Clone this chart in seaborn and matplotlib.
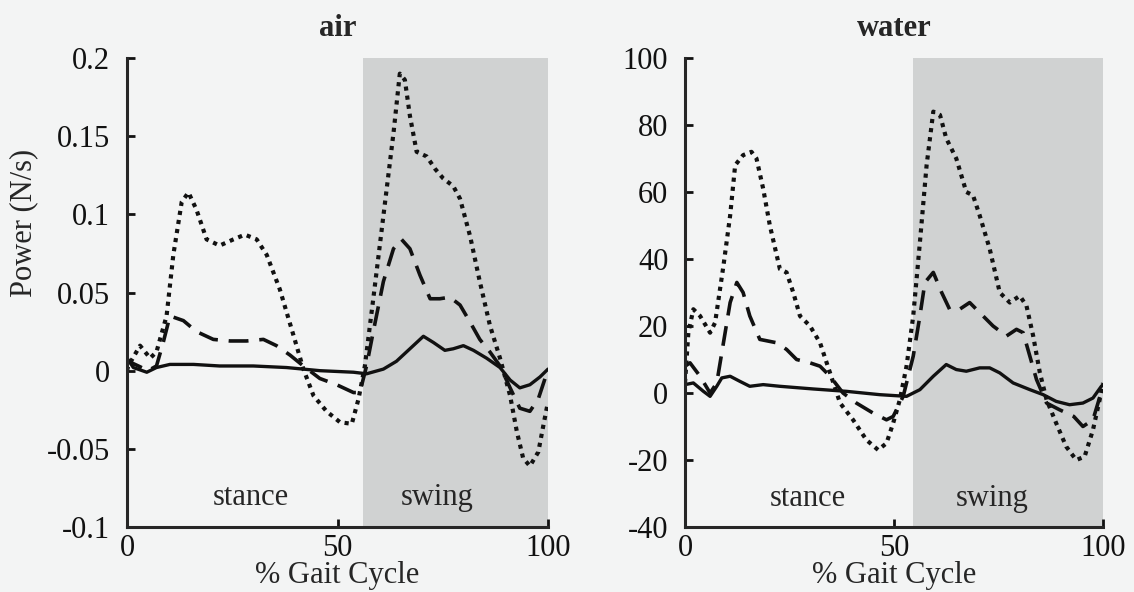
import numpy as np
import pandas as pd
import matplotlib
matplotlib.use("Agg")
import matplotlib.pyplot as plt
import seaborn as sns

# ---------------- data ----------------
air_dot_x = [0, 0.3, 3.1, 5.5, 7, 9.4, 11, 13, 14.6, 16.5, 18.9, 22, 25.3, 28, 30.8, 33.2, 36.3, 39.5, 41.9,
             44.3, 47.4, 50.6, 53.4, 55, 56.5, 58.5, 60.9, 63.3, 64.8, 66, 67.2, 68.8, 71.2, 73.2, 75.1, 77.5,
             79.1, 81.5, 83.8, 86.2, 88.6, 91, 92.6, 94.1, 95.7, 97.7, 98.9, 100]
air_dot_y = [0.0, 0.003, 0.016, 0.008, 0.012, 0.035, 0.074, 0.108, 0.114, 0.103, 0.084, 0.080, 0.084, 0.087,
             0.084, 0.074, 0.052, 0.023, 0.001, -0.016, -0.026, -0.033, -0.034, -0.018, 0.003, 0.046, 0.099,
             0.152, 0.190, 0.186, 0.163, 0.140, 0.137, 0.129, 0.123, 0.118, 0.110, 0.086, 0.057, 0.029, 0.008,
             -0.016, -0.039, -0.056, -0.061, -0.052, -0.035, -0.020]

air_dash_x = [0, 0.3, 2.7, 5, 7, 8.6, 10.2, 13.4, 16.5, 20.5, 24.5, 28.4, 32.4, 35.5, 38.7, 41.9, 45.8, 49.8,
              53.8, 55.3, 56.9, 58.5, 60.9, 63.3, 65.2, 67.2, 69.6, 72, 74.3, 76.7, 79.1, 81.5, 83.8, 86.2,
              88.6, 91, 93.3, 95.7, 97.7, 99.3, 100]
air_dash_y = [0.003, 0.006, 0.003, 0.0, 0.003, 0.018, 0.035, 0.032, 0.025, 0.020, 0.019, 0.019, 0.020, 0.016,
              0.010, 0.003, -0.005, -0.009, -0.014, -0.014, 0.003, 0.025, 0.057, 0.078, 0.084, 0.078, 0.061,
              0.046, 0.046, 0.047, 0.042, 0.031, 0.020, 0.012, 0.003, -0.011, -0.024, -0.026, -0.018, -0.005,
              -0.003]

air_sol_x = [0, 0.3, 1.5, 4.7, 7, 10.2, 15.8, 22, 30, 37.9, 45.8, 53.8, 56.9, 60.9, 64, 67.2, 70.4, 72.8,
             75.5, 77.5, 79.9, 82.3, 85.4, 88.6, 91, 93.3, 95.7, 98.1, 100]
air_sol_y = [0.003, 0.007, 0.002, -0.001, 0.002, 0.004, 0.004, 0.003, 0.003, 0.002, 0.000, -0.001, -0.002,
             0.001, 0.006, 0.014, 0.022, 0.018, 0.013, 0.014, 0.016, 0.013, 0.008, 0.002, -0.006, -0.011,
             -0.009, -0.004, 0.001]

wat_dot_x = [0, 0.8, 2, 3.6, 6, 7.2, 9.2, 10.8, 12, 13.9, 15.9, 17.1, 18.7, 20.3, 22.7, 24.3, 25.9, 27.5,
             29.9, 32.3, 34.7, 37.1, 40.2, 43.4, 46.2, 48.2, 49.8, 51.4, 53, 54.6, 56.2, 57.8, 59.4, 61, 62.5,
             64.9, 67.3, 68.9, 70.5, 72.9, 75.3, 77.7, 80.1, 81.7, 83.3, 84.9, 86.5, 88.8, 91.2, 93.6, 95.6,
             97.6, 99.2, 100]
wat_dot_y = [3, 18, 25, 23, 18, 21, 38, 53, 68, 71, 72, 70, 61, 50, 37, 36, 30, 23, 20, 15, 6, -3, -8, -14,
             -17, -15, -9, -2, 8, 23, 45, 68, 84, 83, 76, 70, 60, 59, 53, 43, 30, 27, 29, 26, 17, 6, -2, -9,
             -16, -20, -19, -11, -2, 3]

wat_dash_x = [0, 1.2, 3.6, 6, 7.6, 9.2, 10.8, 12.4, 13.9, 15.5, 17.9, 21.9, 24.3, 26.7, 29.9, 32.3, 34.7,
              37.8, 41, 45, 48.2, 49.8, 52.2, 54.6, 56.2, 57.4, 59.4, 61.4, 63.3, 65.7, 68.1, 70.5, 73.7,
              76.9, 79.3, 80.9, 82.5, 84.1, 86.5, 89.6, 93, 95.2, 97.6, 100]
wat_dash_y = [8, 9, 5, 0, 3, 15, 27, 33, 30, 23, 16, 15, 13, 10, 9, 8, 5, 0, -3, -6, -8, -7, -1, 11, 23,
              33, 36, 30, 25, 25, 27, 24, 20, 17, 19, 18, 11, 4, -3, -5, -7, -10, -8, 2]

wat_sol_x = [0, 2, 4.4, 6, 7.6, 8.8, 10.8, 13.1, 15.5, 18.7, 22.7, 30.7, 38.6, 46.6, 53, 56.2, 59.4, 62.5,
             64.9, 67.3, 70.5, 72.9, 75.3, 78.5, 82.5, 85.7, 88.8, 92, 95.2, 97.6, 99.6, 100]
wat_sol_y = [2.5, 3, 0.5, -1, 2, 4.5, 5, 3.5, 2, 2.5, 2, 1.2, 0.5, -0.5, -1, 1, 5, 8.5, 7, 6.5, 7.5, 7.5,
             6, 3, 1, -0.5, -2.5, -3.5, -3, -1.5, 2, 2.5]

panel_titles = ["air", "water"]
swing_start = [56.0, 54.6]
air_yticks = [-0.1, -0.05, 0, 0.05, 0.1, 0.15, 0.2]
air_yticklabels = ["-0.1", "-0.05", "0", "0.05", "0.1", "0.15", "0.2"]
wat_yticks = [-40, -20, 0, 20, 40, 60, 80, 100]
xticks = [0, 50, 100]

# ---------------- style ----------------
sns.set_theme(style="ticks")
plt.rcParams["font.family"] = ["Liberation Serif", "DejaVu Serif"]
plt.rcParams["axes.linewidth"] = 2.2

bg = "#f3f4f4"
shade = "#d0d2d2"
FS = 22

fig = plt.figure(figsize=(11.34, 5.92), dpi=100, facecolor=bg)
ax1 = fig.add_axes([127 / 1134, 65 / 592, 421 / 1134, 469 / 592])
ax2 = fig.add_axes([685 / 1134, 65 / 592, 418 / 1134, 469 / 592])

panels = [
    (ax1, [(air_dot_x, air_dot_y, ":"), (air_dash_x, air_dash_y, "--"), (air_sol_x, air_sol_y, "-")],
     (-0.1, 0.2), air_yticks, air_yticklabels, -0.081),
    (ax2, [(wat_dot_x, wat_dot_y, ":"), (wat_dash_x, wat_dash_y, "--"), (wat_sol_x, wat_sol_y, "-")],
     (-40, 100), wat_yticks, [str(t) for t in wat_yticks], -31.5),
]

for i, (ax, series, ylim, yt, ytl, txt_y) in enumerate(panels):
    ax.set_facecolor(bg)
    ax.axvspan(swing_start[i], 100, color=shade, lw=0, zorder=0)
    for xs, ys, ls in series:
        df = pd.DataFrame({"x": xs, "y": ys})
        if ls == ":":
            kw = dict(linestyle=(0, (1.0, 1.2)), linewidth=3.0)
        elif ls == "--":
            kw = dict(linestyle=(0, (5.5, 3.0)), linewidth=2.6)
        else:
            kw = dict(linestyle="-", linewidth=2.4)
        sns.lineplot(data=df, x="x", y="y", ax=ax, color="#111111", sort=False,
                     estimator=None, **kw)
    ax.set_xlim(0, 100)
    ax.set_ylim(*ylim)
    ax.set_xticks(xticks)
    ax.set_xticklabels([str(t) for t in xticks])
    ax.set_yticks(yt)
    ax.set_yticklabels(ytl)
    ax.tick_params(direction="in", length=6, width=2, labelsize=FS, colors="#111111")
    ax.tick_params(axis="x", pad=5)
    ax.tick_params(axis="y", pad=12)
    for s in ["top", "right"]:
        ax.spines[s].set_visible(False)
    ax.set_xlabel("% Gait Cycle", fontsize=FS, va="baseline")
    ax.xaxis.set_label_coords(0.5, (527 - 583) / 469)
    ax.set_ylabel("")
    ax.set_title(panel_titles[i], fontsize=FS, fontweight="bold", pad=16)
    ax.text(29.5, txt_y, "stance", ha="center", va="center", fontsize=FS)
    ax.text(73.6, txt_y, "swing", ha="center", va="center", fontsize=FS)

ax1.set_ylabel("Power (N/s)", fontsize=FS)
ax1.yaxis.set_label_coords((38 - 127) / 421, (527 - 223) / 469)

fig.savefig("out.png", dpi=100, facecolor=bg)
